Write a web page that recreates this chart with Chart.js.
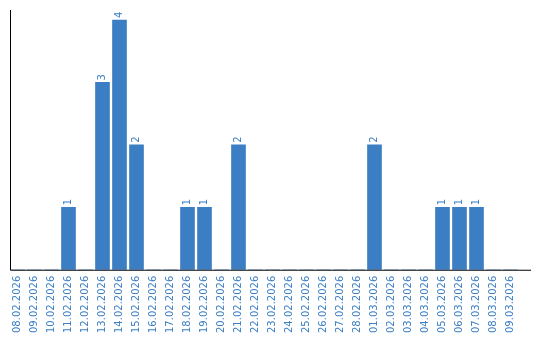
<!DOCTYPE html>
<html>
<head>
<meta charset="utf-8">
<script src="https://cdn.jsdelivr.net/npm/chart.js@4"></script>
<style>
  html, body { margin: 0; padding: 0; background: #fff; }
  #wrap { width: 540px; height: 340px; }
</style>
</head>
<body>
<div id="wrap"><canvas id="chart" width="540" height="340"></canvas></div>
<script>
const dates = [
    "08.02.2026", "09.02.2026", "10.02.2026", "11.02.2026", "12.02.2026",
    "13.02.2026", "14.02.2026", "15.02.2026", "16.02.2026", "17.02.2026",
    "18.02.2026", "19.02.2026", "20.02.2026", "21.02.2026", "22.02.2026",
    "23.02.2026", "24.02.2026", "25.02.2026", "26.02.2026", "27.02.2026",
    "28.02.2026", "01.03.2026", "02.03.2026", "03.03.2026", "04.03.2026",
    "05.03.2026", "06.03.2026", "07.03.2026", "08.03.2026", "09.03.2026"
];
const counts = [
    0, 0, 0, 1, 0,
    3, 4, 2, 0, 0,
    1, 1, 0, 2, 0,
    0, 0, 0, 0, 0,
    0, 2, 0, 0, 0,
    1, 1, 1, 0, 0
];

const blue = "#3b7ec4";
const fontFamily = "'DejaVu Sans', Verdana, sans-serif";

// axes lines + value labels on top of bars
const extras = {
    id: "extras",
    afterDatasetsDraw(chart) {
        const ctx = chart.ctx;
        const area = chart.chartArea;
        ctx.save();
        ctx.strokeStyle = "#000";
        ctx.lineWidth = 1;
        ctx.beginPath();
        ctx.moveTo(10.5, area.top);
        ctx.lineTo(10.5, area.bottom + 0.5);
        ctx.lineTo(531, area.bottom + 0.5);
        ctx.stroke();

        ctx.fillStyle = blue;
        ctx.font = "10px " + fontFamily;
        ctx.textAlign = "left";
        ctx.textBaseline = "middle";
        chart.getDatasetMeta(0).data.forEach((bar, i) => {
            if (!counts[i]) return;
            ctx.save();
            ctx.translate(bar.x, bar.y - 2);
            ctx.rotate(-Math.PI / 2);
            ctx.fillText(String(counts[i]), 0, 0);
            ctx.restore();
        });
        ctx.restore();
    }
};

new Chart(document.getElementById("chart").getContext("2d"), {
    type: "bar",
    data: {
        labels: dates,
        datasets: [{
            data: counts,
            backgroundColor: blue,
            borderWidth: 0,
            barThickness: 14
        }]
    },
    options: {
        responsive: false,
        animation: false,
        layout: {
            padding: { left: 9, right: 21, top: 10, bottom: 1 }
        },
        plugins: {
            legend: { display: false },
            tooltip: { enabled: false }
        },
        scales: {
            x: {
                grid: { display: false, drawTicks: false },
                border: { display: false },
                ticks: {
                    color: blue,
                    font: { family: fontFamily, size: 10 },
                    minRotation: 90,
                    maxRotation: 90,
                    autoSkip: false,
                    padding: 6
                }
            },
            y: {
                display: false,
                min: 0,
                max: 4.16
            }
        }
    },
    plugins: [extras]
});
</script>
</body>
</html>
